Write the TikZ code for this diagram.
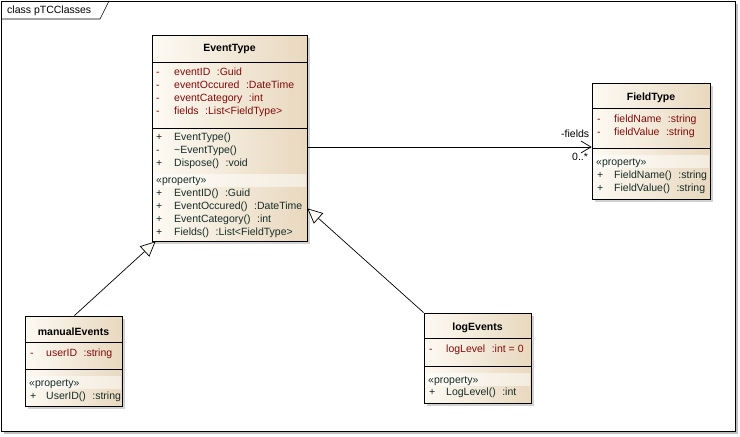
\documentclass[tikz,border=0pt]{standalone}
\usepackage{fontspec}
\setmainfont{Liberation Sans}
\usetikzlibrary{arrows.meta,shadows,positioning}
\definecolor{boxlight}{RGB}{253,250,243}
\definecolor{boxdark}{RGB}{232,216,190}
\definecolor{attrcol}{RGB}{128,10,10}
\definecolor{opcol}{RGB}{22,44,40}
\newcommand{\ty}[1]{\hspace{6.5pt}:#1}
\tikzset{
  classbox/.style={draw, line width=.8pt, inner sep=0pt, left color=boxlight,
    right color=boxdark, drop shadow={opacity=.35, shadow xshift=3pt, shadow yshift=-3pt}},
  cname/.style={font=\fontsize{10.5}{12}\selectfont\bfseries, inner sep=0pt},
  mem/.style={font=\fontsize{10.5}{12}\selectfont, anchor=west, inner sep=0pt,
    text height=7.5pt, text depth=2.5pt},
  attr/.style={mem, text=attrcol},
  oper/.style={mem, text=opcol},
  gen/.style={line width=.7pt, -{Triangle[length=15pt, width=14pt, fill=boxlight]}},
  assoc/.style={line width=.7pt, -{Straight Barb[length=10pt, width=12pt]}}
}
\begin{document}
\begin{tikzpicture}[x=1pt, y=-1pt]
  \useasboundingbox (0,0) rectangle (740,437);
  \draw[line width=.8pt, fill=white, drop shadow={opacity=.5, shadow xshift=3pt, shadow yshift=-3pt}]
    (1,1) rectangle (735,431);
  \draw[line width=.6pt] (1,19) -- (100,19) -- (109,1);
  \node[mem] (title) at (7,11) {class pTCClasses};

  % EventType
  \node[classbox, minimum width=155pt, minimum height=206pt] (etype) at (229.5,138) {};
  \node[cname] (etype-n) at (229.5,49) {EventType};
  \draw (152,62) -- (307,62) (152,128) -- (307,128);
  \fill[white, opacity=.5] (152.6,174) rectangle (306.4,187);
  \foreach \s/\t [count=\i] in {-/eventID\ty{Guid}, -/eventOccured\ty{DateTime},
    -/eventCategory\ty{int}, -/fields\ty{List<FieldType>}}
  {\node[attr] (etype-v\i) at (156,60+13*\i) {\s};
   \node[attr] (etype-a\i) at (174,60+13*\i) {\t};}
  \foreach \s/\t [count=\i] in {+/EventType(), -/\textasciitilde EventType(), +/Dispose()\ty{void}}
  {\node[oper] (etype-w\i) at (156,125+13*\i) {\s};
   \node[oper] (etype-o\i) at (174,125+13*\i) {\t};}
  \node[oper] (etype-p) at (156,181) {«property»};
  \foreach \t [count=\i] in {EventID()\ty{Guid}, EventOccured()\ty{DateTime},
    EventCategory()\ty{int}, Fields()\ty{List<FieldType>}}
  {\node[oper] (etype-x\i) at (156,181+13*\i) {+};
   \node[oper] (etype-q\i) at (174,181+13*\i) {\t};}

  % FieldType
  \node[classbox, minimum width=118pt, minimum height=116pt] (ftype) at (651,141) {};
  \node[cname] (ftype-n) at (651,98) {FieldType};
  \draw (592,108) -- (710,108) (592,148) -- (710,148);
  \fill[white, opacity=.5] (592.6,155) rectangle (709.4,168);
  \foreach \t [count=\i] in {fieldName\ty{string}, fieldValue\ty{string}}
  {\node[attr] (ftype-v\i) at (597,107+13*\i) {-};
   \node[attr] (ftype-a\i) at (614,107+13*\i) {\t};}
  \node[oper] (ftype-p) at (596,163) {«property»};
  \foreach \t [count=\i] in {FieldName()\ty{string}, FieldValue()\ty{string}}
  {\node[oper] (ftype-x\i) at (597,163+13*\i) {+};
   \node[oper] (ftype-q\i) at (614,163+13*\i) {\t};}

  % manualEvents
  \node[classbox, minimum width=97pt, minimum height=90pt] (manual) at (73.5,361) {};
  \node[cname] (manual-n) at (73.5,332) {manualEvents};
  \draw (25,342) -- (122,342) (25,369) -- (122,369);
  \fill[white, opacity=.5] (25.6,376) rectangle (121.4,389);
  \node[attr] (manual-v) at (30,354) {-};
  \node[attr] (manual-a) at (46,354) {userID\ty{string}};
  \node[oper] (manual-p) at (29,384) {«property»};
  \node[oper] (manual-x) at (30,397) {+};
  \node[oper] (manual-q) at (46,397) {UserID()\ty{string}};

  % logEvents
  \node[classbox, minimum width=107pt, minimum height=90pt] (logev) at (477.5,358) {};
  \node[cname] (logev-n) at (477.5,328) {logEvents};
  \draw (424,338) -- (531,338) (424,366) -- (531,366);
  \fill[white, opacity=.5] (424.6,373) rectangle (530.4,386);
  \node[attr] (logev-v) at (429,350) {-};
  \node[attr] (logev-a) at (446,350) {logLevel\ty{int = 0}};
  \node[oper] (logev-p) at (428,381) {«property»};
  \node[oper] (logev-x) at (429,393) {+};
  \node[oper] (logev-q) at (446,393) {LogLevel()\ty{int}};

  % connectors
  \draw[assoc] ([yshift=-9pt]etype.east) -- ([yshift=-6pt]ftype.west);
  \node[mem] (flab) at (561,135) {-fields};
  \node[mem] (fmult) at (572,158) {0..*};
  \draw[gen] ([xshift=-48pt]manual.north east) -- ([xshift=4pt]etype.south west);
  \draw[gen] (logev.north west) -- ([yshift=33pt]etype.south east);
\end{tikzpicture}
\end{document}
